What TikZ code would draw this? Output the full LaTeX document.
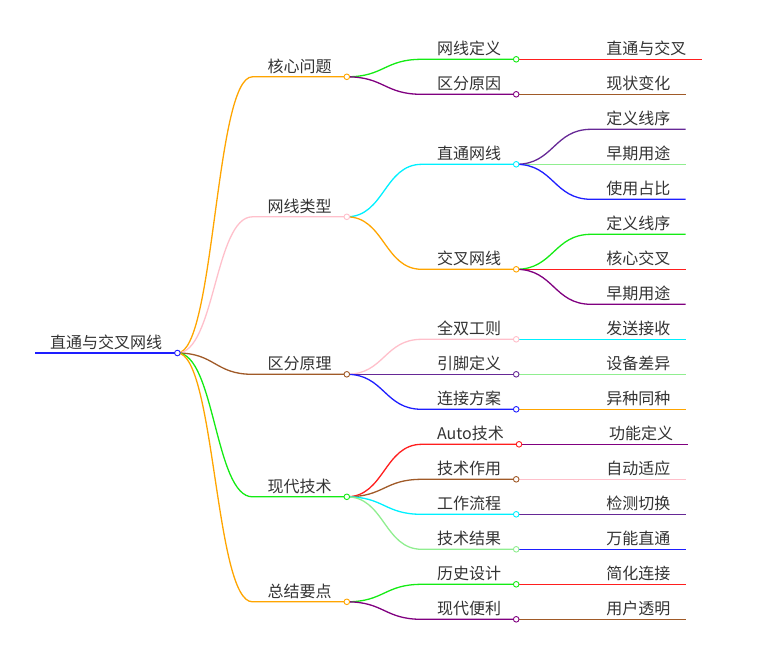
\documentclass[tikz,border=0pt]{standalone}
\usepackage{fontspec}
\newfontfamily\cjk{Noto Sans CJK SC}
\usetikzlibrary{calc}

\definecolor{mmtext}{RGB}{51,51,51}
\definecolor{mmorange}{RGB}{255,165,0}
\definecolor{mmgreen}{RGB}{20,235,20}
\definecolor{mmred}{RGB}{255,30,30}
\definecolor{mmpurple}{RGB}{128,0,128}
\definecolor{mmindigo}{RGB}{102,40,150}
\definecolor{mmcyan}{RGB}{0,240,255}
\definecolor{mmblue}{RGB}{30,30,255}
\definecolor{mmpink}{RGB}{255,192,203}
\definecolor{mmlgreen}{RGB}{144,238,144}
\definecolor{mmbrown}{RGB}{160,90,40}

\tikzset{
  topic/.style={anchor=south west, inner xsep=15pt, inner ysep=4.5pt, text depth=0pt,
    font=\cjk\fontsize{16}{16}\selectfont, text=mmtext},
  link/.style={line width=1.3pt,
    to path={.. controls +(37.5,0) and +(-37.5,0) .. (\tikztotarget)}},
  knot/.style={line width=0.9pt, fill=white},
}

\begin{document}
\begin{tikzpicture}[x=1pt,y=-1pt]
\useasboundingbox (0,0) rectangle (760,646);

% 中心主题
\node[topic] (root) at (35,353) {直通与交叉网线};
\draw[link, mmblue] (root.south west) -- (root.south east);

% 第一层
\foreach \n/\dy/\col/\lbl in {a/-276.2/mmorange/核心问题, b/-136.2/mmpink/网线类型,
    c/21.3/mmbrown/区分原理, d/143.8/mmgreen/现代技术, e/248.8/mmorange/总结要点} {
  \node[topic] (\n) at ($(root.south east)+(75,\dy)$) {\lbl};
  \draw[link, \col] (root.south east) to (\n.south west) -- (\n.south east);
}

% 第二层
\foreach \p/\n/\dy/\col/\lbl in {a/a1/-17.5/mmgreen/网线定义, a/a2/17.5/mmpurple/区分原因,
    b/b1/-52.5/mmcyan/直通网线, b/b2/52.5/mmorange/交叉网线,
    c/c1/-35/mmpink/全双工则, c/c2/0/mmindigo/引脚定义, c/c3/35/mmblue/连接方案,
    d/d1/-52.5/mmred/Auto技术, d/d2/-17.5/mmbrown/技术作用,
    d/d3/17.5/mmcyan/工作流程, d/d4/52.5/mmlgreen/技术结果,
    e/e1/-17.5/mmgreen/历史设计, e/e2/17.5/mmpurple/现代便利} {
  \node[topic] (\n) at ($(\p.south east)+(75,\dy)$) {\lbl};
  \draw[link, \col] (\p.south east) to (\n.south west) -- (\n.south east);
}

% 第三层（叶子）
\foreach \p/\n/\dy/\col/\lbl in {a1/a11/0/mmred/直通与交叉, a2/a21/0/mmbrown/现状变化,
    b1/b11/-35/mmindigo/定义线序, b1/b12/0/mmlgreen/早期用途, b1/b13/35/mmblue/使用占比,
    b2/b21/-35/mmgreen/定义线序, b2/b22/0/mmred/核心交叉, b2/b23/35/mmpurple/早期用途,
    c1/c11/0/mmcyan/发送接收, c2/c21/0/mmlgreen/设备差异, c3/c31/0/mmorange/异种同种,
    d1/d11/0/mmpurple/功能定义, d2/d21/0/mmpink/自动适应,
    d3/d31/0/mmindigo/检测切换, d4/d41/0/mmblue/万能直通,
    e1/e11/0/mmred/简化连接, e2/e21/0/mmbrown/用户透明} {
  \node[topic] (\n) at ($(\p.south east)+(75,\dy)$) {\lbl};
  \draw[link, \col] (\p.south east) to (\n.south west) -- (\n.south east);
}

% 分支端点的小圆圈
\foreach \n/\col in {root/mmblue, a/mmorange, b/mmpink, c/mmbrown, d/mmgreen, e/mmorange,
    a1/mmgreen, a2/mmpurple, b1/mmcyan, b2/mmorange, c1/mmpink, c2/mmindigo, c3/mmblue,
    d1/mmred, d2/mmbrown, d3/mmcyan, d4/mmlgreen, e1/mmgreen, e2/mmpurple}
  \draw[knot, draw=\col] (\n.south east) circle[radius=2.8pt];

\end{tikzpicture}
\end{document}
